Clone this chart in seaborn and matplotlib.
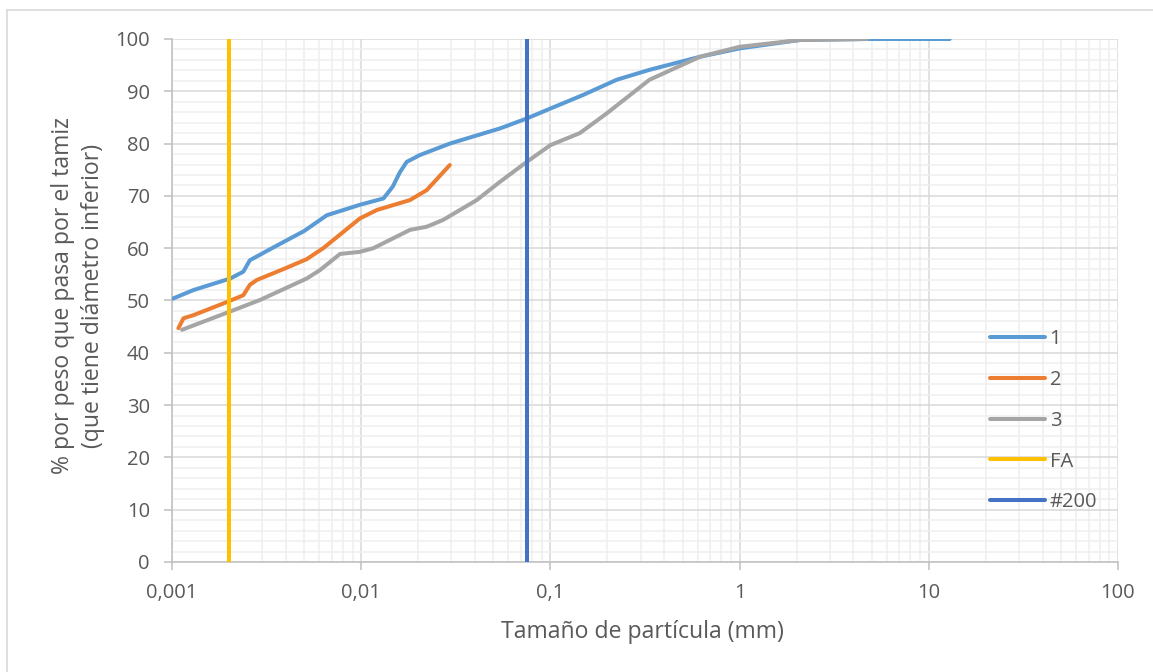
import numpy as np
import pandas as pd
import matplotlib
matplotlib.use("Agg")
import matplotlib.pyplot as plt
import matplotlib.ticker as mticker
import seaborn as sns

# Grain-size distribution curves (particle size in mm, % passing)
size_1 = [0.001, 0.0013, 0.00203, 0.00238, 0.00258, 0.0035, 0.0050, 0.00658, 0.00985,
          0.0131, 0.0147, 0.0160, 0.0174, 0.0204, 0.0294, 0.0542, 0.075, 0.1, 0.149,
          0.224, 0.334, 0.618, 1.0, 2.08, 4.7, 12.9]
pass_1 = [50.3, 52.0, 54.2, 55.5, 57.7, 60.3, 63.3, 66.3, 68.3,
          69.5, 71.8, 74.5, 76.5, 77.8, 80.0, 82.9, 84.8, 86.7, 89.3,
          92.2, 94.1, 96.6, 98.2, 99.8, 100.0, 100.0]

size_2 = [0.00108, 0.00115, 0.0013, 0.00198, 0.00238, 0.00258, 0.0028, 0.0040,
          0.00515, 0.0063, 0.00985, 0.0121, 0.0181, 0.0222, 0.0294]
pass_2 = [44.7, 46.6, 47.2, 49.8, 51.0, 53.0, 53.9, 56.2,
          57.9, 60.0, 65.7, 67.3, 69.2, 71.1, 75.9]

size_3 = [0.00113, 0.00203, 0.00292, 0.00515, 0.00605, 0.00773, 0.00985, 0.0116,
          0.0181, 0.0222, 0.0271, 0.0408, 0.0542, 0.075, 0.1, 0.143, 0.199, 0.334,
          0.618, 1.0, 2.08, 4.7]
pass_3 = [44.4, 47.9, 50.1, 54.2, 55.8, 58.9, 59.3, 60.0,
          63.5, 64.1, 65.4, 69.2, 72.7, 76.5, 79.7, 82.0, 85.8, 92.2,
          96.6, 98.5, 99.8, 100.0]

# Reference sizes: clay fraction limit and #200 sieve opening
fa_size = 0.002
sieve200_size = 0.075

series_names = ["1", "2", "3", "FA", "#200"]
series_colors = ["#5B9BD5", "#ED7D31", "#A5A5A5", "#FFC000", "#4472C4"]

x_ticks = [0.001, 0.01, 0.1, 1, 10, 100]
x_tick_labels = ["0,001", "0,01", "0,1", "1", "10", "100"]
y_ticks = list(range(0, 101, 10))

sns.set_theme(style="white")
plt.rcParams["font.family"] = ["Open Sans", "DejaVu Sans"]

text_color = "#595959"

frames = []
for name, xs, ys in [("1", size_1, pass_1), ("2", size_2, pass_2), ("3", size_3, pass_3)]:
    frames.append(pd.DataFrame({"size": xs, "passing": ys, "serie": name}))
for name, xv in [("FA", fa_size), ("#200", sieve200_size)]:
    frames.append(pd.DataFrame({"size": [xv, xv], "passing": [0, 100], "serie": name}))
df = pd.concat(frames, ignore_index=True)

fig = plt.figure(figsize=(11.53, 6.72), dpi=100)
ax = fig.add_axes([0.1492, 0.1637, 0.8204, 0.7783])

sns.lineplot(data=df, x="size", y="passing", hue="serie", hue_order=series_names,
             palette=series_colors, sort=False, estimator=None, linewidth=2.9,
             ax=ax, zorder=3)

ax.set_xscale("log")
ax.set_xlim(0.001, 100)
ax.set_ylim(0, 100)

ax.xaxis.set_major_locator(mticker.FixedLocator(x_ticks))
ax.xaxis.set_major_formatter(mticker.FixedFormatter(x_tick_labels))
ax.xaxis.set_minor_locator(mticker.LogLocator(base=10, subs=np.arange(2, 10)))
ax.xaxis.set_minor_formatter(mticker.NullFormatter())
ax.set_yticks(y_ticks)
ax.yaxis.set_minor_locator(mticker.MultipleLocator(2))

ax.grid(which="minor", color="#EFEFEF", linewidth=1.1, zorder=0)
ax.grid(which="major", color="#D9D9D9", linewidth=1.1, zorder=1)
ax.set_axisbelow(True)

for side in ["top", "right"]:
    ax.spines[side].set_visible(False)
for side in ["left", "bottom"]:
    ax.spines[side].set_color("#BFBFBF")
    ax.spines[side].set_linewidth(1.1)

ax.tick_params(axis="both", which="major", direction="out", length=6, width=1.1,
               color="#BFBFBF", labelcolor=text_color, labelsize=14.5,
               bottom=True, left=True)
ax.tick_params(axis="x", which="major", pad=9)
ax.tick_params(axis="y", which="major", pad=10)
ax.tick_params(axis="both", which="minor", length=0)

ax.set_xlabel("Tamaño de partícula (mm)", fontsize=16.6, color=text_color)
ax.set_ylabel("% por peso que pasa por el tamiz\n(que tiene diámetro inferior)",
              fontsize=16.6, color=text_color, linespacing=1.3)
ax.xaxis.set_label_coords(0.497, -0.134)
ax.yaxis.set_label_coords(-0.0994, 0.509)
ax.xaxis.label.set_verticalalignment("center")
ax.yaxis.label.set_verticalalignment("center")

leg = ax.legend(loc="center left", bbox_to_anchor=(0.865, 0.27), frameon=False,
                fontsize=14.5, labelspacing=1.03, handlelength=2.73, handletextpad=0.22,
                borderpad=0, borderaxespad=0, labelcolor=text_color)
for line in leg.get_lines():
    line.set_linewidth(2.9)

# outer chart border
fig.add_artist(plt.Line2D([7 / 1153, 7 / 1153], [0, 1 - 10 / 672],
                          transform=fig.transFigure, color="#D9D9D9", linewidth=1.2))
fig.add_artist(plt.Line2D([7 / 1153, 1], [1 - 10 / 672, 1 - 10 / 672],
                          transform=fig.transFigure, color="#D9D9D9", linewidth=1.2))

fig.savefig("out.png", dpi=100)
